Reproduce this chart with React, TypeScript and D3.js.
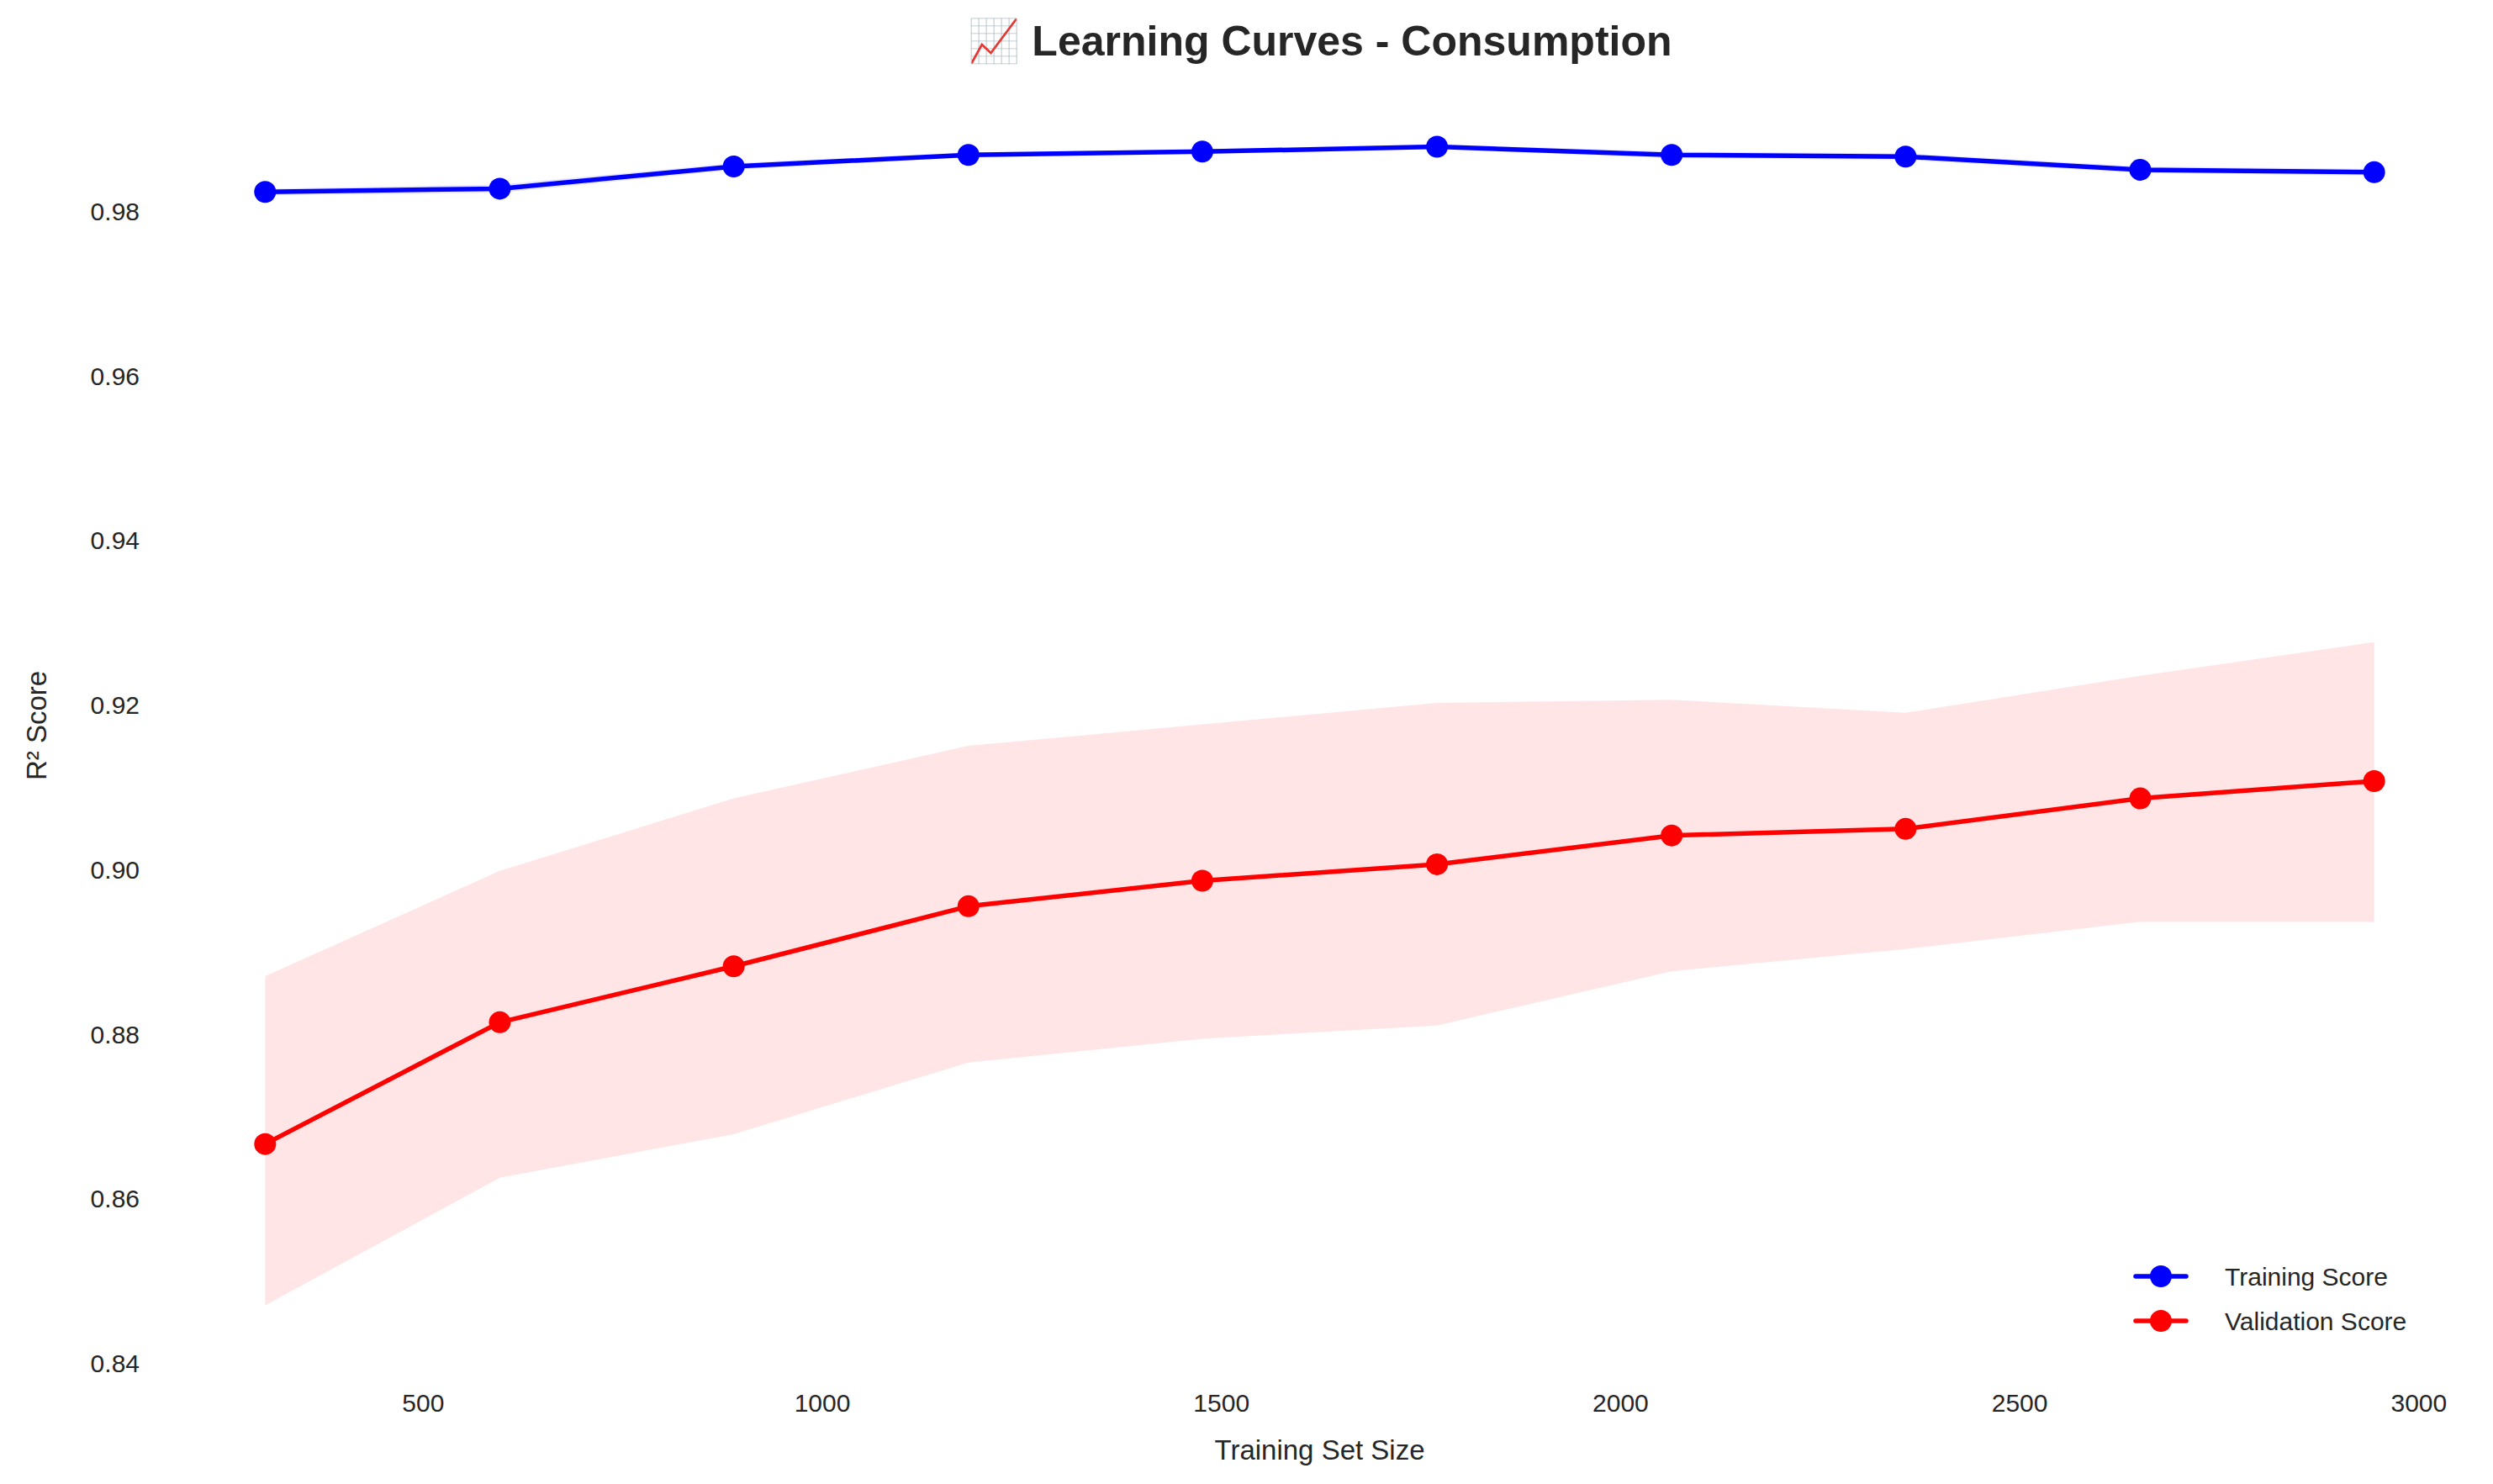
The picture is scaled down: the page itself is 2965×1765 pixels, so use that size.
import React from "react";
import * as d3 from "d3";

const sizes = [302, 596, 889, 1183, 1476, 1770, 2064, 2357, 2651, 2944];
const trainMean = [0.9823, 0.9827, 0.9854, 0.9868, 0.9872, 0.9878, 0.9868, 0.9866, 0.985, 0.9847];
const trainStd = [0.0004, 0.0005, 0.0004, 0.0003, 0.0003, 0.0003, 0.0004, 0.0004, 0.0004, 0.0004];
const valMean = [0.8666, 0.8814, 0.8882, 0.8955, 0.8986, 0.9006, 0.9041, 0.9049, 0.9086, 0.9107];
const valUpper = [0.887, 0.8998, 0.9086, 0.915, 0.9176, 0.9202, 0.9206, 0.919, 0.9235, 0.9276];
const valLower = [0.847, 0.8625, 0.8678, 0.8765, 0.8794, 0.881, 0.8876, 0.8903, 0.8936, 0.8936];
const xTicks = [500, 1000, 1500, 2000, 2500, 3000];
const yTicks = [0.84, 0.86, 0.88, 0.9, 0.92, 0.94, 0.96, 0.98];

const W = 2965, H = 1765;
const L = 190, R = 2949, T = 105, B = 1621;
const FONT = "'Liberation Sans', Arial, sans-serif";
const TXT = "#262626";

export default function App() {
  const x = d3.scaleLinear().domain([170, 3076]).range([L, R]);
  const y = d3.scaleLinear().domain([0.84, 0.9949]).range([B, T]);
  const idx = sizes.map((_, i) => i);
  const area = (lo: number[], hi: number[]) =>
    d3.area<number>().x(i => x(sizes[i])).y0(i => y(lo[i])).y1(i => y(hi[i]))(idx) || "";
  const line = (v: number[]) => d3.line<number>().x(i => x(sizes[i])).y(i => y(v[i]))(idx) || "";
  const tLo = trainMean.map((m, i) => m - trainStd[i]);
  const tHi = trainMean.map((m, i) => m + trainStd[i]);
  return (
    <svg width={W} height={H} style={{ display: "block", position: "absolute", left: 0, top: 0, background: "#fff" }} fontFamily={FONT}>
      <rect width={W} height={H} fill="#fff" />
      <path d={area(tLo, tHi)} fill="blue" fillOpacity={0.1} />
      <path d={area(valLower, valUpper)} fill="red" fillOpacity={0.1} />
      <path d={line(trainMean)} fill="none" stroke="blue" strokeWidth={5.5} strokeLinejoin="round" />
      <path d={line(valMean)} fill="none" stroke="red" strokeWidth={5.5} strokeLinejoin="round" />
      {idx.map(i => <circle key={"t" + i} cx={x(sizes[i])} cy={y(trainMean[i])} r={13} fill="blue" />)}
      {idx.map(i => <circle key={"v" + i} cx={x(sizes[i])} cy={y(valMean[i])} r={13} fill="red" />)}
      {xTicks.map(t => (
        <text key={t} x={x(t)} y={B + 58} textAnchor="middle" fontSize={30} fill={TXT}>{t}</text>
      ))}
      {yTicks.map(t => (
        <text key={t} x={L - 24} y={y(t) + 11} textAnchor="end" fontSize={30} fill={TXT}>{t.toFixed(2)}</text>
      ))}
      <text x={(L + R) / 2} y={B + 115} textAnchor="middle" fontSize={33} fill={TXT}>Training Set Size</text>
      <text transform={`translate(55,${(T + B) / 2}) rotate(-90)`} textAnchor="middle" fontSize={33} fill={TXT}>R² Score</text>
      <text x={1570} y={66} textAnchor="middle" fontSize={50} fontWeight="bold" fill={TXT}>📈 Learning Curves - Consumption</text>
      {[{ c: "blue", l: "Training Score", yy: 1518 }, { c: "red", l: "Validation Score", yy: 1571 }].map(d => (
        <g key={d.l}>
          <line x1={2540} x2={2600} y1={d.yy} y2={d.yy} stroke={d.c} strokeWidth={5.5} strokeLinecap="round" />
          <circle cx={2570} cy={d.yy} r={13} fill={d.c} />
          <text x={2646} y={d.yy + 11} fontSize={30} fill={TXT}>{d.l}</text>
        </g>
      ))}
    </svg>
  );
}
